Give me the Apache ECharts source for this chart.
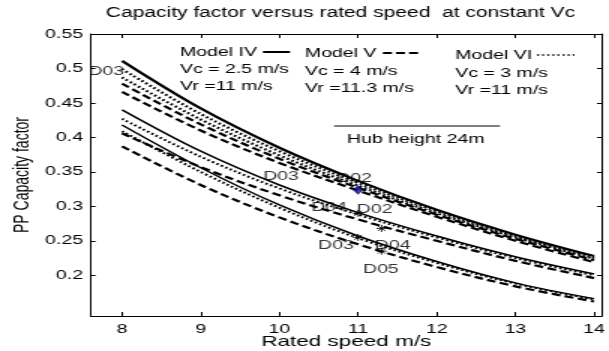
<!DOCTYPE html>
<html>
<head>
<meta charset="utf-8">
<script src="https://cdn.jsdelivr.net/npm/echarts@6/dist/echarts.min.js"></script>
<style>
  html, body { margin: 0; padding: 0; background: #fff; overflow: hidden; }
  #wrap { width: 609px; height: 351px; overflow: hidden; }
  /* the figure is laid out on a narrow canvas and widened horizontally */
  #chart { width: 406px; height: 351px; transform: scaleX(1.5); transform-origin: 0 0; }
</style>
</head>
<body>
<div id="wrap"><div id="chart"></div></div>
<script>
// Rated speed (m/s) at which each capacity-factor curve is sampled
const ratedSpeed = [8, 9, 10, 11, 12, 13, 14];
const xTicks = [8, 9, 10, 11, 12, 13, 14];
const yTicks = [0.2, 0.25, 0.3, 0.35, 0.4, 0.45, 0.5, 0.55];

// Upper family of curves
const upperIV   = [0.511, 0.442, 0.385, 0.337, 0.295, 0.259, 0.228];
const upperVIa  = [0.499, 0.434, 0.380, 0.334, 0.293, 0.257, 0.226];
const upperVIb  = [0.487, 0.426, 0.374, 0.330, 0.290, 0.255, 0.224];
const upperVa   = [0.478, 0.419, 0.369, 0.327, 0.288, 0.253, 0.222];
const upperVb   = [0.466, 0.410, 0.363, 0.323, 0.285, 0.250, 0.219];

// Middle family
const middleIV  = [0.440, 0.380, 0.331, 0.291, 0.257, 0.227, 0.202];
const middleVI  = [0.427, 0.372, 0.326, 0.288, 0.255, 0.225, 0.200];
const middleV   = [0.406, 0.357, 0.316, 0.281, 0.250, 0.221, 0.196];

// Lower family
const lowerIV   = [0.418, 0.356, 0.302, 0.257, 0.220, 0.189, 0.166];
const lowerVI   = [0.409, 0.350, 0.298, 0.254, 0.218, 0.188, 0.165];
const lowerV    = [0.387, 0.331, 0.284, 0.245, 0.212, 0.184, 0.162];

// Design points of the sites
const bluePoint = [[11, 0.324]];
const starPoints = [[11, 0.290], [11.3, 0.268], [11, 0.255], [11.3, 0.235]];

// Site labels: [speed, capacity factor, text]
const siteLabels = [
  [7.80, 0.495, 'D03'],
  [10.02, 0.343, 'D03'],
  [10.95, 0.341, 'D02'],
  [10.63, 0.299, 'D04'],
  [11.21, 0.296, 'D02'],
  [10.72, 0.244, 'D03'],
  [11.44, 0.244, 'D04'],
  [11.29, 0.208, 'D05']
];

const FONT = '"Liberation Sans", Arial, Helvetica, sans-serif';
const dashStyle = [6, 3];
const dotStyle = [1.6, 1.9];

function curve(values, dash, width) {
  return {
    type: 'line',
    data: ratedSpeed.map((x, i) => [x, values[i]]),
    smooth: 0.35,
    symbol: 'none',
    silent: true,
    lineStyle: { color: '#000', width: width, type: dash || 'solid' }
  };
}

const asteriskPath = 'path://M5,0L5,10M0,5L10,5M1.5,1.5L8.5,8.5M1.5,8.5L8.5,1.5';

const series = [
  curve(upperIV, null, 2.2),
  curve(upperVIa, dotStyle, 2.2),
  curve(upperVIb, dotStyle, 2.2),
  curve(upperVa, dashStyle, 2.2),
  curve(upperVb, dashStyle, 2.2),
  curve(middleIV, null, 1.5),
  curve(middleVI, dotStyle, 2),
  curve(middleV, dashStyle, 2.2),
  curve(lowerIV, null, 1.5),
  curve(lowerVI, dotStyle, 2),
  curve(lowerV, dashStyle, 2.2),
  {
    type: 'scatter',
    data: starPoints,
    symbol: asteriskPath,
    symbolSize: 7,
    itemStyle: { color: 'transparent', borderColor: '#000', borderWidth: 1 },
    z: 5
  },
  {
    type: 'scatter',
    data: bluePoint,
    symbol: 'diamond',
    symbolSize: [6, 8],
    itemStyle: { color: '#1a1a9a', borderColor: '#00006e', borderWidth: 1 },
    z: 6
  },
  {
    type: 'scatter',
    data: siteLabels.map(d => ({ value: [d[0], d[1]], name: d[2] })),
    symbolSize: 0,
    z: 7,
    label: {
      show: true,
      position: 'inside',
      formatter: p => p.name,
      color: '#000',
      fontSize: 13,
      fontFamily: FONT
    }
  }
];

const axisLineStyle = { show: true, lineStyle: { color: '#000', width: 1 } };

function txt(x, y, text, size) {
  return { type: 'text', x: x, y: y, style: { text: text, textVerticalAlign: 'middle', font: (size || 13) + 'px ' + FONT, fill: '#000' } };
}

const option = {
  animation: false,
  backgroundColor: '#fff',
  grid: { left: 60.4, right: 4.7, top: 34, bottom: 35, containLabel: false, outerBoundsMode: 'none' },
  xAxis: [
    {
      type: 'value', min: 7.6, max: 14.1, position: 'bottom',
      axisLine: axisLineStyle,
      axisTick: { show: true, inside: true, length: 4, customValues: xTicks, lineStyle: { color: '#000' } },
      axisLabel: { customValues: xTicks, color: '#000', fontSize: 13, fontFamily: FONT, margin: 7 },
      splitLine: { show: false },
      name: 'Rated speed m/s', nameLocation: 'middle', nameGap: 26, nameMoveOverlap: false,
      nameTextStyle: { color: '#000', fontSize: 15, fontFamily: FONT, verticalAlign: 'middle' }
    },
    {
      type: 'value', min: 7.6, max: 14.1, position: 'top',
      axisLine: axisLineStyle,
      axisTick: { show: true, inside: true, length: 4, customValues: xTicks, lineStyle: { color: '#000' } },
      axisLabel: { show: false },
      splitLine: { show: false }
    }
  ],
  yAxis: [
    {
      type: 'value', min: 0.141, max: 0.55, position: 'left',
      axisLine: axisLineStyle,
      axisTick: { show: true, inside: true, length: 3.3, customValues: yTicks, lineStyle: { color: '#000' } },
      axisLabel: { customValues: yTicks, color: '#000', fontSize: 13, fontFamily: FONT, margin: 5 },
      splitLine: { show: false },
      name: 'PP Capacity factor', nameLocation: 'middle', nameGap: 45, nameMoveOverlap: false,
      nameTextStyle: { color: '#000', fontSize: 14, fontFamily: FONT, verticalAlign: 'middle' }
    },
    {
      type: 'value', min: 0.141, max: 0.55, position: 'right',
      axisLine: axisLineStyle,
      axisTick: { show: true, inside: true, length: 3.3, customValues: yTicks, lineStyle: { color: '#000' } },
      axisLabel: { show: false },
      splitLine: { show: false }
    }
  ],
  graphic: [
    { type: 'text', x: 227, y: 13, style: { text: 'Capacity factor versus rated speed  at constant Vc', textAlign: 'center', textVerticalAlign: 'middle', font: '14px ' + FONT, fill: '#000' } },
    // key: Model IV
    txt(120, 52, 'Model IV'),
    { type: 'line', shape: { x1: 175.3, y1: 52, x2: 193.3, y2: 52 }, style: { stroke: '#000', lineWidth: 2 } },
    txt(120, 69, 'Vc = 2.5 m/s'),
    txt(120, 86, 'Vr =11 m/s'),
    // key: Model V
    txt(203.3, 53, 'Model V'),
    { type: 'line', shape: { x1: 255.3, y1: 53, x2: 278.7, y2: 53 }, style: { stroke: '#000', lineWidth: 2, lineDash: [6, 2.7] } },
    txt(203.3, 71, 'Vc = 4 m/s'),
    txt(203.3, 88, 'Vr =11.3 m/s'),
    // key: Model VI
    txt(303.5, 55, 'Model VI'),
    { type: 'line', shape: { x1: 358, y1: 55, x2: 383, y2: 55 }, style: { stroke: '#000', lineWidth: 1.5, lineDash: [1.4, 2] } },
    txt(303.5, 73, 'Vc = 3 m/s'),
    txt(303.5, 90, 'Vr =11 m/s'),
    // hub height note
    { type: 'line', shape: { x1: 222.7, y1: 126, x2: 333.3, y2: 126 }, style: { stroke: '#000', lineWidth: 1 } },
    txt(231.3, 139, 'Hub height 24m')
  ],
  series: series
};

const chart = echarts.init(document.getElementById('chart'), null, { renderer: 'canvas' });
chart.setOption(option);
</script>
</body>
</html>
